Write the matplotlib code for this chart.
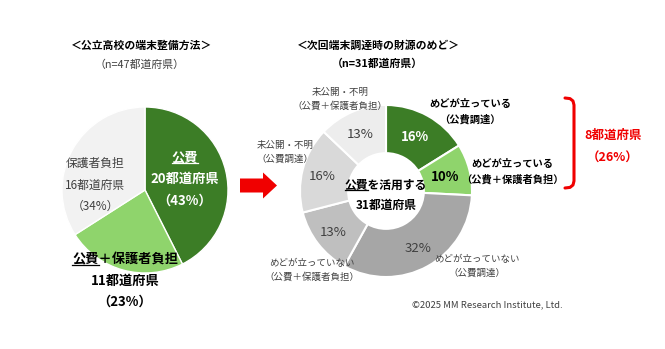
import numpy as np
import matplotlib.pyplot as plt
from matplotlib.patches import FancyArrow

plt.rcParams['font.family'] = ['Noto Sans CJK JP', 'DejaVu Sans']

# 左：公立高校の端末整備方法 (n=47)
left_labels = ['公費', '公費＋保護者負担', '保護者負担']
left_counts = [20, 11, 16]
left_pcts = [43, 23, 34]

# 右：次回端末調達時の財源のめど (n=31)
right_labels = ['めどが立っている\n（公費調達）',
                'めどが立っている\n（公費＋保護者負担）',
                'めどが立っていない\n（公費調達）',
                'めどが立っていない\n（公費＋保護者負担）',
                '未公開・不明\n（公費調達）',
                '未公開・不明\n（公費＋保護者負担）']
right_counts = [5, 3, 10, 4, 5, 4]
right_pcts = [16, 10, 32, 13, 16, 13]

W, H = 665, 349
dark_green = '#3C7D26'
light_green = '#8FD46C'
gray_txt = '#404040'
red = '#F00000'

fig = plt.figure(figsize=(W / 100, H / 100), dpi=100)
ax = fig.add_axes([0, 0, 1, 1])

# 左の円グラフ
ax.pie(left_counts, colors=[dark_green, light_green, '#F2F2F2'],
       startangle=90, counterclock=False, center=(145, H - 190), radius=83,
       wedgeprops=dict(edgecolor='white', linewidth=1))

# 右のドーナツ
ax.pie(right_counts,
       colors=[dark_green, light_green, '#A6A6A6', '#BFBFBF', '#D9D9D9', '#EDEDED'],
       startangle=90, counterclock=False, center=(386, H - 191), radius=86,
       wedgeprops=dict(width=86 * 0.56, edgecolor='white', linewidth=1.5))

ax.set_xlim(0, W)
ax.set_ylim(0, H)
ax.set_aspect('equal')
ax.axis('off')


def txt(x, y, s, size=8.5, color=gray_txt, weight='normal'):
    return ax.text(x, H - y, s, ha='center', va='center', fontsize=size,
                   color=color, fontweight=weight)


# タイトル
txt(142, 46, '＜公立高校の端末整備方法＞', 7.8, 'black', 'bold')
txt(140, 65, '（n=47都道府県）', 7.8, gray_txt)
txt(378, 45, '＜次回端末調達時の財源のめど＞', 7.8, 'black', 'bold')
txt(377, 64, '（n=31都道府県）', 7.8, 'black', 'bold')

# 左のラベル
t_pub = txt(185, 157, left_labels[0], 9.5, 'white', 'bold')
txt(185, 179, f'{left_counts[0]}都道府県', 9.5, 'white', 'bold')
txt(185, 201, f'（{left_pcts[0]}%）', 9.5, 'white', 'bold')

t_mix = txt(125, 259, left_labels[1], 9.5, 'black', 'bold')
txt(125, 281, f'{left_counts[1]}都道府県', 9.5, 'black', 'bold')
txt(125, 302, f'（{left_pcts[1]}%）', 9.5, 'black', 'bold')

txt(95, 163, left_labels[2], 8.5)
txt(95, 185, f'{left_counts[2]}都道府県', 8.5)
txt(95, 206, f'（{left_pcts[2]}%）', 8.5)

# ドーナツの割合
pct_pos = [(415, 137), (445, 177), (418, 249), (333, 232), (322, 177), (360, 134)]
pct_style = [('white', 'bold'), ('black', 'bold'), (gray_txt, 'normal'),
             (gray_txt, 'normal'), (gray_txt, 'normal'), (gray_txt, 'normal')]
for (x, y), p, (c, w) in zip(pct_pos, right_pcts, pct_style):
    txt(x, y, f'{p}%', 9.5, c, w)

# 中央
t_center = txt(386, 185, '公費を活用する', 8.5, 'black', 'bold')
txt(386, 205, f'{sum(right_counts)}都道府県', 8.5, 'black', 'bold')

# ドーナツの外側ラベル
lab_pos = [(470, 112), (512, 172), (477, 266), (312, 270), (285, 152), (340, 99)]
for i, ((x, y), s) in enumerate(zip(lab_pos, right_labels)):
    bold = i < 2
    ax.text(x, H - y, s, ha='center', va='center', fontsize=7.4 if bold else 6.8,
            color='black' if bold else gray_txt,
            fontweight='bold' if bold else 'normal', linespacing=1.6)

# 矢印
ax.add_patch(FancyArrow(240, H - 185.5, 37, 0, width=14, head_width=26,
                        head_length=14, length_includes_head=True,
                        color=red, lw=0))

# 括弧
bx = [565, 570, 573, 574, 574, 573, 570, 565]
by = [98, 98.6, 101, 105, 181, 185, 187.4, 188]
ax.plot(bx, [H - v for v in by], color=red, lw=2.2,
        solid_capstyle='round', solid_joinstyle='round')
txt(613, 135, f'{right_counts[0] + right_counts[1]}都道府県', 9, red, 'bold')
txt(613, 158, f'（{right_pcts[0] + right_pcts[1]}%）', 9, red, 'bold')

txt(487, 305, '©2025 MM Research Institute, Ltd.', 6.8, gray_txt)

# 「公費」の下線
fig.canvas.draw()
for t, frac, col in [(t_pub, 1.0, 'white'), (t_mix, 2 / 8, 'black'),
                     (t_center, 2 / 7, 'black')]:
    bb = t.get_window_extent()
    y = bb.y0 + 1.5
    ax.plot([bb.x0, bb.x0 + bb.width * frac], [y, y], color=col, lw=0.9)

fig.savefig('out.png', dpi=100)
